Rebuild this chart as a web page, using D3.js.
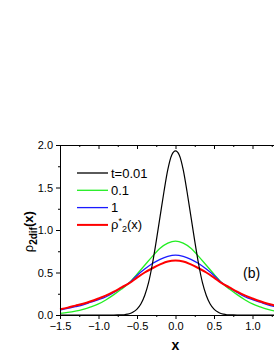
<!DOCTYPE html>
<html>
<head>
<meta charset="utf-8">
<script src="https://cdn.jsdelivr.net/npm/d3@7"></script>
<style>
  body { margin: 0; background: #fff; }
  svg { display: block; }
  .axis text { font-family: "Liberation Sans", Arial, sans-serif; font-size: 11px; fill: #000; }
  .axis path, .axis line { stroke: #000; }
</style>
</head>
<body>
<div id="chart"></div>
<script>
// x positions (half profile, curves are symmetric about x = 0)
var xsBlack = [0, 0.05, 0.1, 0.15, 0.2, 0.25, 0.3, 0.35, 0.4, 0.45, 0.5, 0.55, 0.6, 0.65, 0.7, 0.75, 0.8, 1.0, 1.5];
var black   = [1.93, 1.88, 1.71, 1.45, 1.16, 0.87, 0.60, 0.38, 0.23, 0.13, 0.07, 0.035, 0.015, 0.006, 0.002, 0.0005, 0, 0, 0];

var xs    = [0, 0.1, 0.2, 0.3, 0.4, 0.5, 0.6, 0.7, 0.8, 0.9, 1.0, 1.1, 1.2, 1.3, 1.4, 1.5];
var green = [0.87, 0.845, 0.785, 0.69, 0.585, 0.48, 0.38, 0.305, 0.24, 0.18, 0.13, 0.095, 0.066, 0.045, 0.03, 0.02];
var blue  = [0.705, 0.69, 0.655, 0.605, 0.54, 0.465, 0.38, 0.32, 0.265, 0.215, 0.18, 0.15, 0.12, 0.098, 0.078, 0.058];
var red   = [0.64, 0.63, 0.595, 0.55, 0.50, 0.44, 0.375, 0.325, 0.275, 0.23, 0.195, 0.162, 0.133, 0.11, 0.087, 0.068];

var legendNames = ["t=0.01", "0.1", "1", "rho"];
var xTicks = [-1.5, -1.0, -0.5, 0.0, 0.5, 1.0];
var yTicks = [0.0, 0.5, 1.0, 1.5, 2.0];

var margin = {top: 145, left: 60},
    width = 231, height = 170;

var x = d3.scaleLinear().domain([-1.5, 1.5]).range([0, width]);
var y = d3.scaleLinear().domain([0, 2]).range([height, 0]);

var svg = d3.select("#chart").append("svg")
    .attr("width", 274)
    .attr("height", 355)
  .append("g")
    .attr("transform", "translate(" + margin.left + "," + margin.top + ")");

// mirror the half profile to the full curve
function full(xv, yv) {
  var pts = [];
  for (var i = xv.length - 1; i > 0; i--) pts.push([-xv[i], yv[i]]);
  for (var j = 0; j < xv.length; j++) pts.push([xv[j], yv[j]]);
  return pts;
}

var line = d3.line()
    .x(function(d) { return x(d[0]); })
    .y(function(d) { return y(d[1]); })
    .curve(d3.curveMonotoneX);

var series = [
  {pts: full(xs, green), color: "#22ee22", w: 1.3},
  {pts: full(xs, blue), color: "#1a1aff", w: 1.3},
  {pts: full(xs, red), color: "#ff0000", w: 2},
  {pts: full(xsBlack, black), color: "#000", w: 1.2}
];

svg.selectAll(".curve")
    .data(series)
  .enter().append("path")
    .attr("class", "curve")
    .attr("d", function(d) { return line(d.pts); })
    .attr("fill", "none")
    .attr("stroke", function(d) { return d.color; })
    .attr("stroke-width", function(d) { return d.w; });

// axes
var minorX = d3.range(-1.25, 1.5, 0.5);
var minorY = d3.range(0.25, 2, 0.5);

svg.append("g")
    .attr("class", "axis")
    .attr("transform", "translate(0," + height + ")")
    .call(d3.axisBottom(x).tickValues(xTicks).tickFormat(d3.format(".1f")).tickSize(4).tickSizeOuter(0).tickPadding(3));
svg.append("g")
    .attr("class", "axis")
    .attr("transform", "translate(0," + height + ")")
    .call(d3.axisBottom(x).tickValues(minorX).tickFormat("").tickSize(2).tickSizeOuter(0));

svg.append("g")
    .attr("class", "axis")
    .call(d3.axisLeft(y).tickValues(yTicks).tickFormat(d3.format(".1f")).tickSize(4).tickSizeOuter(0).tickPadding(3));
svg.append("g")
    .attr("class", "axis")
    .call(d3.axisLeft(y).tickValues(minorY).tickFormat("").tickSize(2).tickSizeOuter(0));

// top frame with inward ticks
svg.append("g")
    .attr("class", "axis")
    .call(d3.axisTop(x).tickValues(xTicks).tickFormat("").tickSize(-4).tickSizeOuter(0));
svg.append("g")
    .attr("class", "axis")
    .call(d3.axisTop(x).tickValues(minorX).tickFormat("").tickSize(-2).tickSizeOuter(0));

// axis titles
svg.append("text")
    .attr("x", x(0))
    .attr("y", height + 35)
    .attr("text-anchor", "middle")
    .style("font-family", "Liberation Sans, Arial, sans-serif")
    .style("font-size", "14px")
    .style("font-weight", "bold")
    .text("x");

var ylab = svg.append("text")
    .attr("transform", "translate(-27," + (y(0.98)) + ") rotate(-90)")
    .attr("text-anchor", "middle")
    .style("font-family", "Liberation Sans, Arial, sans-serif")
    .style("font-size", "13px");
ylab.append("tspan").text("ρ");
ylab.append("tspan").attr("dy", 4).style("font-size", "10px").style("font-weight", "bold").text("2dif");
ylab.append("tspan").attr("dy", -4).style("font-weight", "bold").text("(x)");

// legend
var legendColors = ["#000", "#22ee22", "#1a1aff", "#ff0000"];
var legend = svg.append("g")
    .attr("transform", "translate(17,28)")
  .selectAll("g")
    .data(legendNames)
  .enter().append("g")
    .attr("transform", function(d, i) { return "translate(0," + i * 17.3 + ")"; });

legend.append("line")
    .attr("x1", 0).attr("x2", 31)
    .attr("stroke", function(d, i) { return legendColors[i]; })
    .attr("stroke-width", function(d, i) { return i == 3 ? 2 : 1.3; });

var lt = legend.append("text")
    .attr("x", 34)
    .attr("dy", "0.35em")
    .style("font-family", "Liberation Sans, Arial, sans-serif")
    .style("font-size", "13px");
lt.filter(function(d) { return d != "rho"; }).text(function(d) { return d; });
var rho = lt.filter(function(d) { return d == "rho"; });
rho.append("tspan").text("ρ");
rho.append("tspan").attr("dy", -5).style("font-size", "9px").text("*");
rho.append("tspan").attr("dy", 8).style("font-size", "9px").text("2");
rho.append("tspan").attr("dy", -3).text("(x)");

svg.append("text")
    .attr("x", 183)
    .attr("y", 133)
    .style("font-family", "Liberation Sans, Arial, sans-serif")
    .style("font-size", "14px")
    .text("(b)");
</script>
</body>
</html>
